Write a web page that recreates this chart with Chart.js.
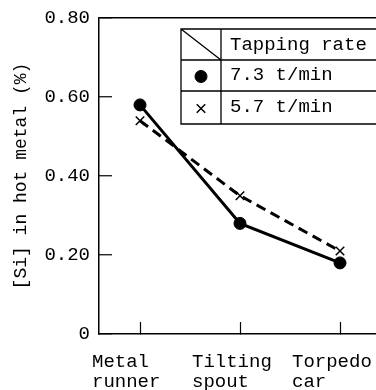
<!DOCTYPE html>
<html><head><meta charset="utf-8">
<script src="https://cdn.jsdelivr.net/npm/chart.js@4/dist/chart.umd.min.js"></script>
<style>html,body{margin:0;padding:0;background:#fff;}#wrap{width:376px;height:390px;}</style>
</head><body><div id="wrap"><canvas id="c" width="376" height="390"></canvas></div>
<script>
const categories = [["Metal","runner"],["Tilting","spout"],["Torpedo","car"]];
const rate73 = [0.58, 0.28, 0.18];
const rate57 = [0.54, 0.35, 0.21];
const seriesNames = ["7.3 t/min", "5.7 t/min"];
const legendTitle = "Tapping rate";
const yTickValues = [0, 0.2, 0.4, 0.6, 0.8];
const yTickLabels = ["0", "0.20", "0.40", "0.60", "0.80"];
const yTitle = "[Si] in hot metal (%)";

const FONT = '"Liberation Mono", "DejaVu Sans Mono", monospace';

const tablePlugin = {
  id: 'tapTable',
  afterDraw(chart) {
    const ctx = chart.ctx;
    const a = chart.chartArea;
    const L = a.left + 82, D = a.left + 122, R = a.right + 6;
    const rows = [a.top + 11, a.top + 42, a.top + 73, a.top + 106];
    ctx.save();
    ctx.fillStyle = '#fff';
    ctx.fillRect(L, rows[0], R - L, rows[3] - rows[0]);
    ctx.strokeStyle = '#000';
    ctx.lineWidth = 1.3;
    ctx.beginPath();
    ctx.rect(L, rows[0], R - L, rows[3] - rows[0]);
    ctx.moveTo(L, rows[1]); ctx.lineTo(R, rows[1]);
    ctx.moveTo(L, rows[2]); ctx.lineTo(R, rows[2]);
    ctx.moveTo(D, rows[0]); ctx.lineTo(D, rows[3]);
    ctx.moveTo(L, rows[0]); ctx.lineTo(D, rows[1]);
    ctx.stroke();
    ctx.fillStyle = '#000';
    ctx.font = '19px ' + FONT;
    ctx.textBaseline = 'middle';
    ctx.textAlign = 'left';
    ctx.fillText(legendTitle, D + 9, (rows[0] + rows[1]) / 2);
    chart.data.datasets.forEach((ds, i) => {
      const cy = (rows[i + 1] + rows[i + 2]) / 2;
      ctx.fillText(ds.label, D + 9, cy - 1);
      ctx.save();
      ctx.fillStyle = '#000';
      ctx.strokeStyle = '#000';
      ctx.lineWidth = ds.pointBorderWidth;
      Chart.helpers.drawPoint(ctx, {pointStyle: ds.pointStyle, radius: ds.pointRadius, borderWidth: ds.pointBorderWidth, rotation: 0}, (L + D) / 2, cy + 1);
      ctx.restore();
    });
    ctx.restore();
  }
};

new Chart(document.getElementById('c'), {
  type: 'line',
  data: {
    datasets: [
      {
        label: seriesNames[0],
        data: rate73.map((v, i) => ({x: i, y: v})),
        borderColor: '#000', backgroundColor: '#000',
        borderWidth: 3,
        pointStyle: 'circle', pointRadius: 6, pointBorderWidth: 1,
        pointBackgroundColor: '#000', pointBorderColor: '#000',
        tension: 0, fill: false
      },
      {
        label: seriesNames[1],
        data: rate57.map((v, i) => ({x: i, y: v})),
        borderColor: '#000', backgroundColor: '#000',
        borderWidth: 3, borderDash: [10, 6],
        pointStyle: 'crossRot', pointRadius: 6, pointBorderWidth: 1.5,
        pointBackgroundColor: '#000', pointBorderColor: '#000',
        tension: 0, fill: false
      }
    ]
  },
  options: {
    responsive: false,
    animation: false,
    devicePixelRatio: 1,
    layout: {padding: {top: 18, right: 0, bottom: 0, left: 0}, autoPadding: false},
    plugins: {legend: {display: false}, tooltip: {enabled: false}},
    scales: {
      x: {
        type: 'linear',
        min: -0.41, max: 2.36,
        afterBuildTicks: (s) => { s.ticks = categories.map((c, i) => ({value: i})); },
        afterFit: (s) => { s.height = 56; s.paddingLeft = 0; s.paddingRight = 0; s.paddingTop = 0; s.paddingBottom = 0; },
        border: {display: true, color: '#000', width: 1.5},
        grid: {drawOnChartArea: false, drawTicks: true, tickLength: -12, tickColor: '#000', tickWidth: 1.2},
        ticks: {
          callback: (v) => categories[v],
          align: 'start', labelOffset: -48, padding: 30, maxRotation: 0, autoSkip: false,
          color: '#000', font: {family: FONT, size: 19, lineHeight: 1.05}
        }
      },
      y: {
        type: 'linear',
        min: 0, max: 0.8,
        afterBuildTicks: (s) => { s.ticks = yTickValues.map(v => ({value: v})); },
        afterFit: (s) => { s.width = 99; s.paddingLeft = 0; s.paddingRight = 0; s.paddingTop = 0; s.paddingBottom = 0; },
        border: {display: true, color: '#000', width: 1.5},
        grid: {
          drawOnChartArea: true, drawTicks: true, tickLength: -13,
          color: (c) => (c.tick && c.tick.value === 0.8 ? '#000' : 'rgba(0,0,0,0)'),
          lineWidth: 1.5,
          tickColor: '#000', tickWidth: 1.2
        },
        ticks: {
          callback: (v, i) => yTickLabels[i],
          padding: 22, autoSkip: false,
          color: '#000', font: {family: FONT, size: 19}
        },
        title: {
          display: true, text: yTitle, color: '#000',
          font: {family: FONT, size: 18, lineHeight: 1.2},
          padding: {top: 10, bottom: 0}
        }
      }
    }
  },
  plugins: [tablePlugin]
});
</script></body></html>
